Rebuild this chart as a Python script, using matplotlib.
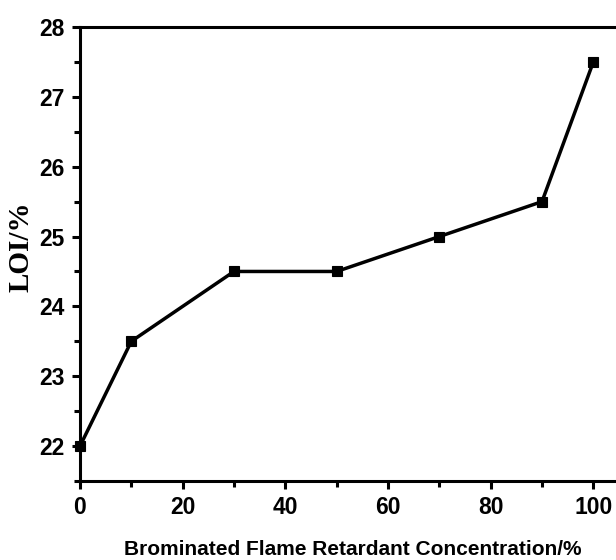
import matplotlib
matplotlib.use("Agg")
import matplotlib.pyplot as plt
from matplotlib.ticker import MultipleLocator

concentration = [0, 10, 30, 50, 70, 90, 100]
loi = [22.0, 23.5, 24.5, 24.5, 25.0, 25.5, 27.5]

fig = plt.figure(figsize=(6.16, 5.6), dpi=100)
ax = fig.add_axes([80 / 616, 79 / 560, 539 / 616, 454 / 560])

ax.plot(concentration, loi, color="black", lw=2.5, marker="s", ms=6.5, mew=0.8,
        markerfacecolor="black", markeredgecolor="black", clip_on=False, zorder=3)

ax.set_xlim(0, 105)
ax.set_ylim(21.5, 28)
ax.xaxis.set_major_locator(MultipleLocator(20))
ax.xaxis.set_minor_locator(MultipleLocator(10))
ax.yaxis.set_major_locator(MultipleLocator(1))
ax.yaxis.set_minor_locator(MultipleLocator(0.5))

for side in ("left", "bottom", "top"):
    ax.spines[side].set_linewidth(2.2)
ax.spines["right"].set_visible(False)

ax.tick_params(which="major", direction="out", length=6, width=2.2, pad=5)
ax.tick_params(which="minor", direction="out", length=4, width=2.2)

for lab in ax.get_xticklabels() + ax.get_yticklabels():
    lab.set_fontfamily("Liberation Sans")
    lab.set_fontweight("bold")
    lab.set_fontsize(16.5)

fig.text(353 / 616, 5 / 560, "Brominated Flame Retardant Concentration/%",
         fontfamily="Liberation Sans", fontweight="bold", fontsize=15,
         ha="center", va="baseline")
fig.text(21 / 616, (560 - 247) / 560, "LOI/%", rotation=90,
         fontfamily="Liberation Serif", fontweight="bold", fontsize=21,
         ha="center", va="center")

fig.savefig("out.png", dpi=100)
